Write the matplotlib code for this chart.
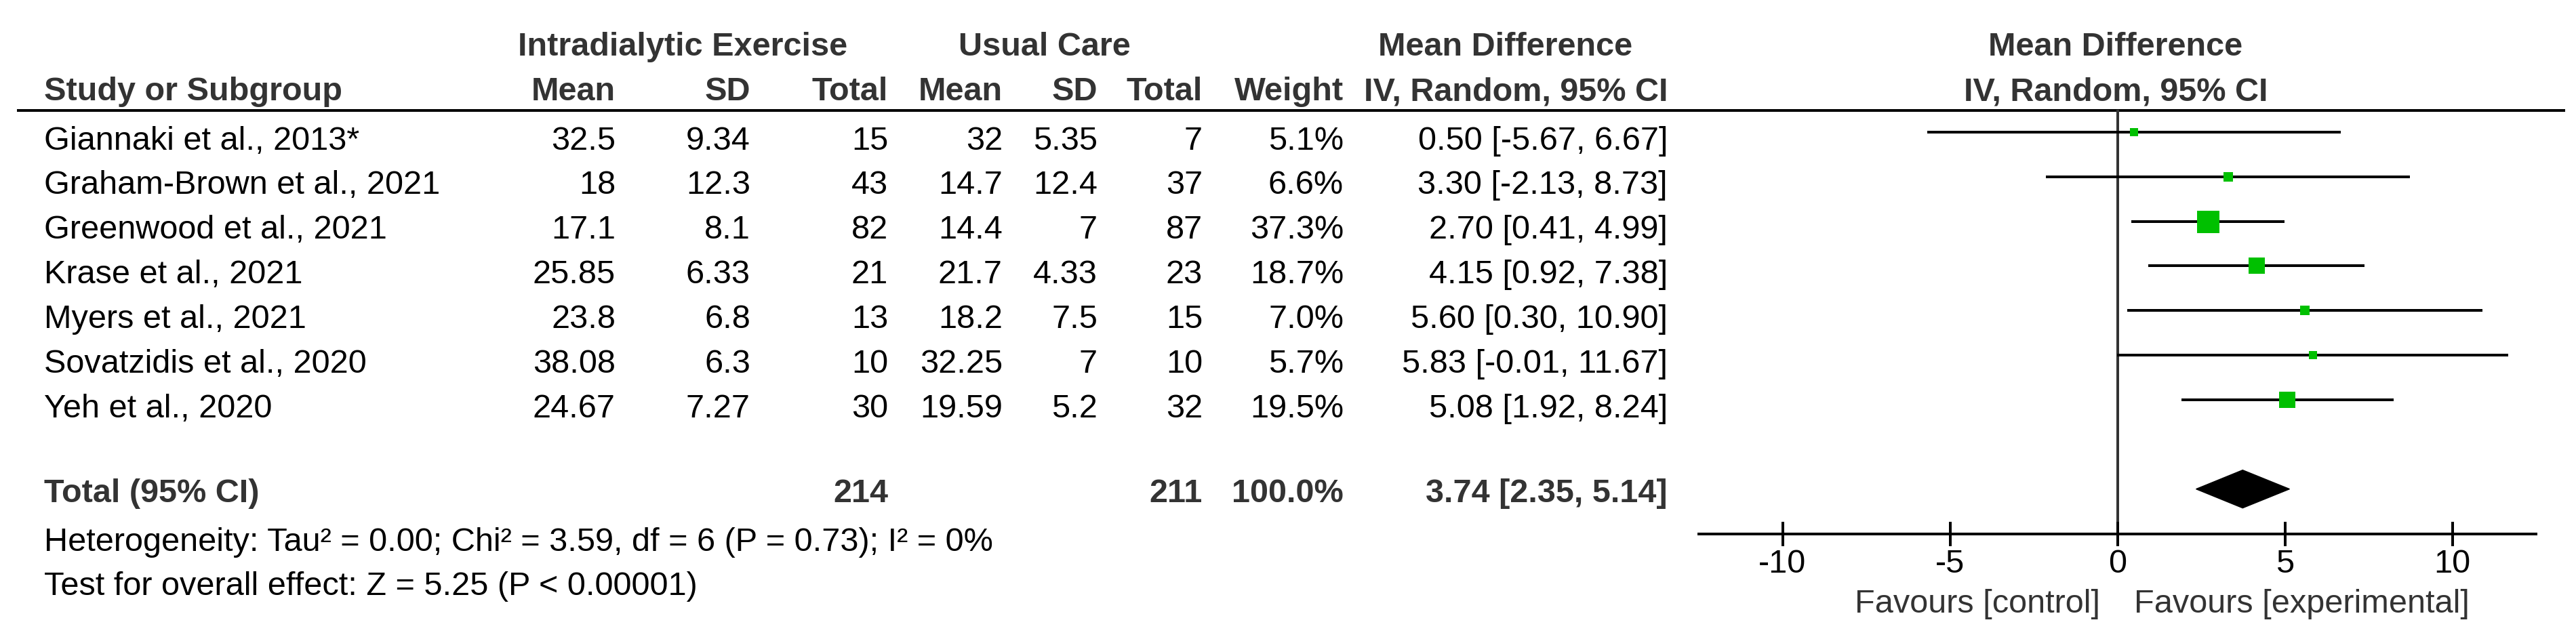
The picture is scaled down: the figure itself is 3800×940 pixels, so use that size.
import matplotlib
matplotlib.use("Agg")
import matplotlib.pyplot as plt
from matplotlib.transforms import blended_transform_factory
from matplotlib.patches import Polygon
import numpy as np

plt.rcParams['font.family'] = ['Liberation Sans', 'DejaVu Sans']
plt.rcParams['axes.unicode_minus'] = False

# ---------------- data ----------------
studies = ["Giannaki et al., 2013*", "Graham-Brown et al., 2021", "Greenwood et al., 2021",
           "Krase et al., 2021", "Myers et al., 2021", "Sovatzidis et al., 2020", "Yeh et al., 2020"]
ex_mean = ["32.5", "18", "17.1", "25.85", "23.8", "38.08", "24.67"]
ex_sd = ["9.34", "12.3", "8.1", "6.33", "6.8", "6.3", "7.27"]
ex_n = [15, 43, 82, 21, 13, 10, 30]
uc_mean = ["32", "14.7", "14.4", "21.7", "18.2", "32.25", "19.59"]
uc_sd = ["5.35", "12.4", "7", "4.33", "7.5", "7", "5.2"]
uc_n = [7, 37, 87, 23, 15, 10, 32]
weight = [5.1, 6.6, 37.3, 18.7, 7.0, 5.7, 19.5]
md = [0.50, 3.30, 2.70, 4.15, 5.60, 5.83, 5.08]
ci_lo = [-5.67, -2.13, 0.41, 0.92, 0.30, -0.01, 1.92]
ci_hi = [6.67, 8.73, 4.99, 7.38, 10.90, 11.67, 8.24]
total_label = "Total (95% CI)"
total_ex_n = "214"
total_uc_n = "211"
total_weight = "100.0%"
total_md, total_lo, total_hi = 3.74, 2.35, 5.14
het_text = "Heterogeneity: Tau\u00b2 = 0.00; Chi\u00b2 = 3.59, df = 6 (P = 0.73); I\u00b2 = 0%"
effect_text = "Test for overall effect: Z = 5.25 (P < 0.00001)"
xticks = [-10, -5, 0, 5, 10]
favours_left = "Favours [control]"
favours_right = "Favours [experimental]"

# ---------------- layout ----------------
W, H = 3800, 940
FS = 35
LW = 2.88
BOLD_C = "#333333"

fig = plt.figure(figsize=(W / 100, H / 100), dpi=100)
tab = fig.add_axes([0, 0, 1, 1])
tab.set_xlim(0, W)
tab.set_ylim(H, 0)
tab.axis("off")

ax_left, ax_right, ax_top, ax_bot = 2506, 3741, 162, 787.5
ax = fig.add_axes([ax_left / W, 1 - ax_bot / H, (ax_right - ax_left) / W, (ax_bot - ax_top) / H])
ax.patch.set_visible(False)
ax.set_xlim(-12.5, 12.5)
total_row = len(studies) + 1
ax.set_ylim(total_row + 1, -0.5)
for s in ["top", "left", "right"]:
    ax.spines[s].set_visible(False)
ax.spines["bottom"].set_linewidth(LW)
ax.set_yticks([])
ax.set_xticks(xticks)
ax.tick_params(axis="x", direction="inout", length=26, width=LW, labelsize=FS, pad=3.5,
               colors="black")

rows = np.arange(len(studies))

# zero line
ax.axvline(0, color="#333333", lw=LW, zorder=1)
# CIs
ax.hlines(rows, ci_lo, ci_hi, color="black", lw=LW, zorder=2)
# squares (area proportional to weight)
w = np.array(weight)
sides_px = 33 * np.sqrt(w / w.max())
for r, m, s in zip(rows, md, sides_px):
    ax.plot([m], [r], marker="s", markersize=s * 0.72, color="#00C000", mew=0, zorder=3,
            linestyle="none")
# diamond
hh = 0.425
ax.add_patch(Polygon([(total_lo, total_row), (total_md, total_row - hh), (total_hi, total_row),
                      (total_md, total_row + hh)], closed=True, color="black", zorder=3))

# favours labels
fav_tr = blended_transform_factory(ax.transData, tab.transData)
ax.annotate(favours_left, xy=(0, 904), xycoords=fav_tr, xytext=(-25, 0), textcoords="offset pixels",
            ha="right", va="baseline", fontsize=FS, color=BOLD_C, annotation_clip=False)
ax.annotate(favours_right, xy=(0, 904), xycoords=fav_tr, xytext=(24, 0), textcoords="offset pixels",
            ha="left", va="baseline", fontsize=FS, color=BOLD_C, annotation_clip=False)

# ---------------- table ----------------
col_study = 65
col_ex_mean, col_ex_sd, col_ex_n = 908, 1107, 1310
col_uc_mean, col_uc_sd, col_uc_n = 1479, 1619, 1774
col_weight, col_md = 1982, 2460

hb = dict(fontsize=FS, fontweight="bold", color=BOLD_C, va="baseline")
y1, y2 = 82, 148
tab.text(1007, y1, "Intradialytic Exercise", ha="center", **hb)
tab.text(1541, y1, "Usual Care", ha="center", **hb)
tab.text(2221, y1, "Mean Difference", ha="center", **hb)
tab.text(3121, y1, "Mean Difference", ha="center", **hb)
tab.text(col_study, y2, "Study or Subgroup", ha="left", **hb)
for x, t in [(col_ex_mean, "Mean"), (col_ex_sd, "SD"), (col_ex_n, "Total"),
             (col_uc_mean, "Mean"), (col_uc_sd, "SD"), (col_uc_n, "Total"),
             (col_weight, "Weight"), (col_md, "IV, Random, 95% CI")]:
    tab.text(x, y2, t, ha="right", **hb)
tab.text(3121, y2, "IV, Random, 95% CI", ha="center", **hb)

# header rule
tab.plot([25, 3784], [163, 163], color="black", lw=LW, solid_capstyle="butt")

row_tr = blended_transform_factory(tab.transData, ax.transData)
rt = dict(fontsize=FS, color="black", va="baseline", transform=row_tr)
off = 0.39
for i in rows:
    y = i + off
    tab.text(col_study, y, studies[i], ha="left", **rt)
    tab.text(col_ex_mean, y, ex_mean[i], ha="right", **rt)
    tab.text(col_ex_sd, y, ex_sd[i], ha="right", **rt)
    tab.text(col_ex_n, y, str(ex_n[i]), ha="right", **rt)
    tab.text(col_uc_mean, y, uc_mean[i], ha="right", **rt)
    tab.text(col_uc_sd, y, uc_sd[i], ha="right", **rt)
    tab.text(col_uc_n, y, str(uc_n[i]), ha="right", **rt)
    tab.text(col_weight, y, f"{weight[i]:.1f}%", ha="right", **rt)
    tab.text(col_md, y, f"{md[i]:.2f} [{ci_lo[i]:.2f}, {ci_hi[i]:.2f}]", ha="right", **rt)

tb = dict(fontsize=FS, fontweight="bold", color=BOLD_C, va="baseline", transform=row_tr)
yt = total_row + 0.29
tab.text(col_study, yt, total_label, ha="left", **tb)
tab.text(col_ex_n, yt, total_ex_n, ha="right", **tb)
tab.text(col_uc_n, yt, total_uc_n, ha="right", **tb)
tab.text(col_weight, yt, total_weight, ha="right", **tb)
tab.text(col_md, yt, f"{total_md:.2f} [{total_lo:.2f}, {total_hi:.2f}]", ha="right", **tb)

tab.text(col_study, 813, het_text, ha="left", va="baseline", fontsize=FS, color="black")
tab.text(col_study, 878, effect_text, ha="left", va="baseline", fontsize=FS, color="black")

fig.savefig("out.png", dpi=100, facecolor="white")
